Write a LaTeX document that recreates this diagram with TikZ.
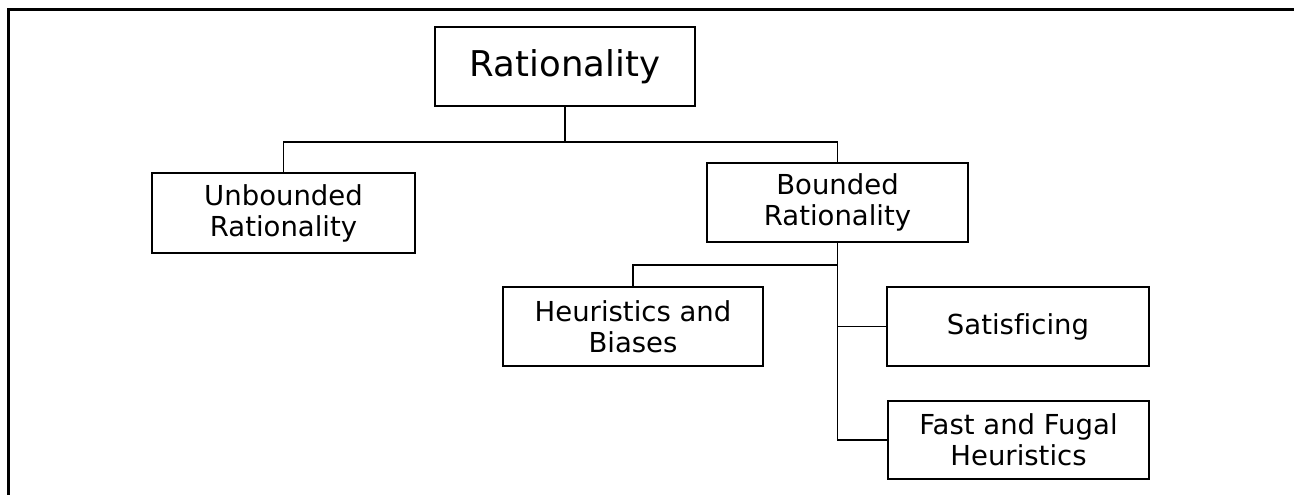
\documentclass[tikz,border=0pt]{standalone}
\usepackage{fontspec}
\setmainfont[Ligatures=NoCommon]{DejaVu Sans}
\usetikzlibrary{positioning}
\tikzset{
  box/.style={rectangle, draw=black, line width=1.9pt, align=center, inner sep=0pt,
    minimum width=261pt, minimum height=79pt, font=\fontsize{27.5}{31}\selectfont},
  link/.style={line width=1.9pt}
}

\begin{document}
\begin{tikzpicture}[x=1pt, y=-1pt]
    \useasboundingbox (0,0) rectangle (1294,495);

    % Rahmen (nur oben und links)
    \draw[line width=3pt] (1294,9.5) -- (8.5,9.5) -- (8.5,495);

    % Knoten
    \node[box, minimum width=260pt, font=\fontsize{35.5}{40}\selectfont] (rat) at (565,66.5) {Rationality};
    \node[box, minimum width=263pt, minimum height=80pt] (unb) at (283.5,213) {Unbounded\\Rationality};
    \node[box] (bnd) at (837.5,202.5) {Bounded\\Rationality};
    \node[box, minimum width=260pt] (heu) at (633,326.5) {Heuristics and\\Biases};
    \node[box, minimum width=262pt] (sat) at (1018,326.5) {Satisficing};
    \node[box, minimum height=78pt] (ffh) at (1018.5,440) {Fast and Fugal\\Heuristics};

    % Verbindungen
    \path (rat.south) ++(0,35) coordinate (j1);
    \draw[link] (rat.south) -- (j1);
    \draw[link] (j1) -| (unb.north);
    \draw[link] (j1) -| (bnd.north);

    \path (bnd.south) ++(0,22) coordinate (j2);
    \draw[link] (bnd.south) |- (ffh.west);
    \draw[link] (j2) -| (heu.north);
    \draw[link] (bnd.south |- sat.west) -- (sat.west);
\end{tikzpicture}
\end{document}
